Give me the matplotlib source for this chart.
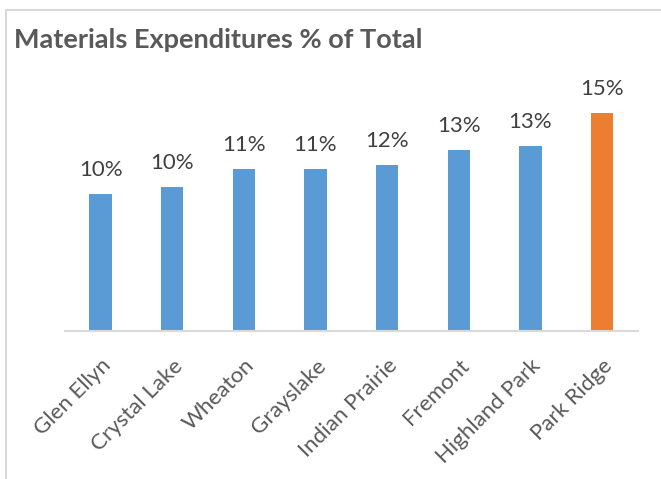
import matplotlib.pyplot as plt
from matplotlib.lines import Line2D

libraries = ['Glen Ellyn', 'Crystal Lake', 'Wheaton', 'Grayslake',
             'Indian Prairie', 'Fremont', 'Highland Park', 'Park Ridge']
pct_of_total = [9.63, 10.09, 11.36, 11.36, 11.67, 12.73, 13.03, 15.33]
highlight = 'Park Ridge'

plt.rcParams['font.family'] = ['Lato', 'DejaVu Sans']

fig = plt.figure(figsize=(6.61, 4.79), dpi=100)
ax = fig.add_axes([0.098, 0.31, 0.867, 0.474])

colors = ['#ED7D31' if n == highlight else '#5B9BD5' for n in libraries]
bars = ax.bar(range(len(libraries)), pct_of_total, width=0.31, color=colors)

for b, v in zip(bars, pct_of_total):
    ax.annotate('%d%%' % round(v), (b.get_x() + b.get_width() / 2, v),
                xytext=(0, 10), textcoords='offset points',
                ha='center', va='bottom', fontsize=16, color='#404040')

ax.set_xlim(-0.5, len(libraries) - 0.5)
ax.set_ylim(0, 16)
ax.set_yticks([])
ax.set_xticks(range(len(libraries)))
ax.set_xticklabels(libraries, rotation=45, ha='right', va='top',
                   rotation_mode='anchor', fontsize=16, color='#595959')
ax.tick_params(axis='x', length=0, pad=18)
for s in ['top', 'right', 'left']:
    ax.spines[s].set_visible(False)
ax.spines['bottom'].set_color('#D9D9D9')
ax.spines['bottom'].set_linewidth(1.5)

fig.text(14 / 661, 1 - 48 / 479, 'Materials Expenditures % of Total',
         fontsize=19.5, fontweight='bold', color='#595959', ha='left', va='baseline')

# chart frame (top and left edges visible in the crop)
fig.add_artist(Line2D([6 / 661, 6 / 661, 1], [0, 1 - 10 / 479, 1 - 10 / 479],
                      color='#D9D9D9', lw=1.5, transform=fig.transFigure))

fig.savefig('out.png', dpi=100)
